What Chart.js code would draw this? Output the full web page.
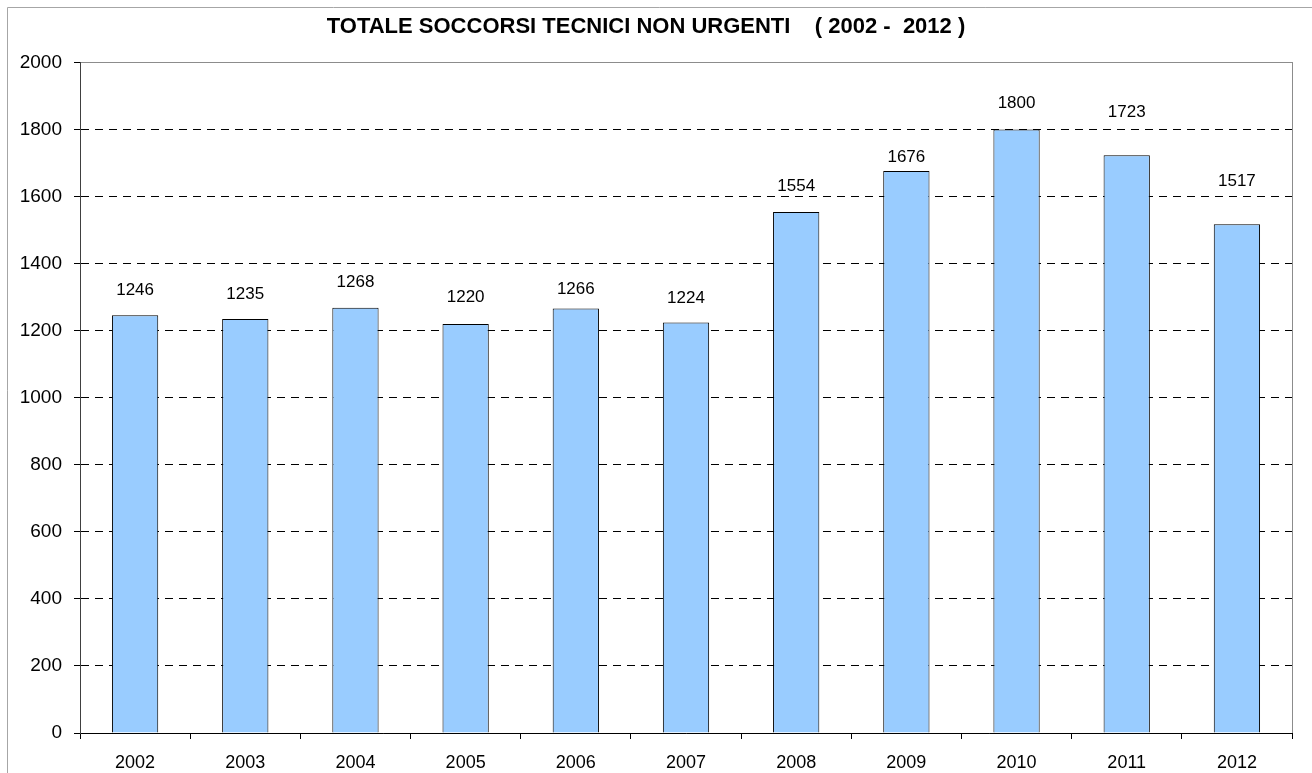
<!DOCTYPE html>
<html>
<head>
<meta charset="utf-8">
<title>Totale soccorsi tecnici non urgenti</title>
<script src="https://cdn.jsdelivr.net/npm/chart.js@4.4.1/dist/chart.umd.min.js"></script>
<style>
  body { margin: 0; background: #fff; overflow: hidden; }
  #wrap { position: relative; width: 1312px; height: 773px; }
</style>
</head>
<body>
<div id="wrap"><canvas id="chart" width="1312" height="773"></canvas></div>
<script>
// data
const years = ['2002', '2003', '2004', '2005', '2006', '2007', '2008', '2009', '2010', '2011', '2012'];
const totals = [1246, 1235, 1268, 1220, 1266, 1224, 1554, 1676, 1800, 1723, 1517];
const chartTitle = 'TOTALE SOCCORSI TECNICI NON URGENTI    ( 2002 -  2012 )';

// outer frame + plot border
const framePlugin = {
    id: 'frame',
    beforeDraw(chart) {
        const ctx = chart.ctx;
        const a = chart.chartArea;
        ctx.save();
        ctx.fillStyle = '#fff';
        ctx.fillRect(0, 0, chart.width, chart.height);
        ctx.strokeStyle = '#a6a6a6';
        ctx.lineWidth = 1;
        ctx.beginPath();
        ctx.moveTo(7.5, chart.height);
        ctx.lineTo(7.5, 7.5);
        ctx.lineTo(chart.width, 7.5);
        ctx.stroke();
        ctx.strokeStyle = '#8c8c8c';
        ctx.strokeRect(Math.round(a.left) + 0.5, Math.round(a.top) + 0.5, Math.round(a.right - a.left), Math.round(a.bottom - a.top));
        ctx.restore();
    }
};

// values above bars (the original labels were nudged by hand, so each has its own gap)
const valueLabels = {
    id: 'valueLabels',
    afterDatasetsDraw(chart, args, opts) {
        const ctx = chart.ctx;
        const meta = chart.getDatasetMeta(0);
        const gaps = opts.gaps || [];
        ctx.save();
        ctx.font = '17px "Liberation Sans", Arial, sans-serif';
        ctx.fillStyle = '#000';
        ctx.textAlign = 'center';
        ctx.textBaseline = 'middle';
        meta.data.forEach((bar, i) => {
            ctx.fillText(String(totals[i]), bar.x, bar.y - (gaps[i] || 25));
        });
        ctx.restore();
    }
};

const ctx = document.getElementById('chart').getContext('2d');
const chart = new Chart(ctx, {
    type: 'bar',
    data: {
        labels: years,
        datasets: [{
            data: totals,
            backgroundColor: '#99ccff',
            borderColor: '#000',
            borderWidth: 1,
            barPercentage: 0.42,
            categoryPercentage: 1
        }]
    },
    options: {
        responsive: false,
        animation: false,
        layout: { padding: { left: 0, right: 20, top: 0, bottom: 0 } },
        plugins: {
            legend: { display: false },
            tooltip: { enabled: false },
            title: {
                display: true,
                text: chartTitle,
                color: '#000',
                font: { family: '"Liberation Sans", Arial, sans-serif', size: 22, weight: 'bold', lineHeight: 1.2 },
                padding: { top: 14, bottom: 22 }
            },
            valueLabels: {
                gaps: [25, 25, 26, 27, 19, 24, 26, 14, 26, 43, 43]
            }
        },
        scales: {
            x: {
                afterFit: s => { s.height = 40; },
                grid: { drawOnChartArea: false, drawTicks: true, tickLength: 6, color: '#000' },
                border: { color: '#000', width: 1 },
                ticks: {
                    color: '#000',
                    padding: 13,
                    font: { family: '"Liberation Sans", Arial, sans-serif', size: 18 }
                }
            },
            y: {
                min: 0,
                max: 2000,
                afterFit: s => { s.width = 80; },
                grid: {
                    color: c => (c.tick && (c.tick.value === 0 || c.tick.value === 2000)) ? 'rgba(0,0,0,0)' : '#000',
                    tickColor: '#000',
                    tickLength: 6,
                    lineWidth: 1
                },
                border: { color: '#404040', width: 1, dash: [8, 6] },
                ticks: {
                    stepSize: 200,
                    color: '#000',
                    padding: 12,
                    font: { family: '"Liberation Sans", Arial, sans-serif', size: 19 },
                    callback: v => String(v)
                }
            }
        }
    },
    plugins: [framePlugin, valueLabels]
});
</script>
</body>
</html>
